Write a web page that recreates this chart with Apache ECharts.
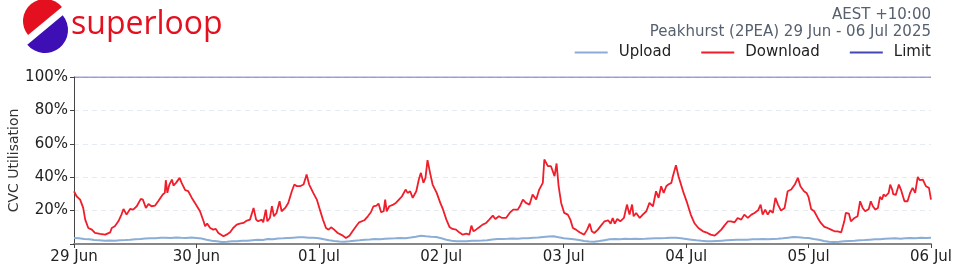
<!DOCTYPE html>
<html><head><meta charset="utf-8">
<script src="https://cdn.jsdelivr.net/npm/echarts@6/dist/echarts.min.js"></script>
<style>html,body{margin:0;padding:0;background:#fff}#c{width:960px;height:275px}</style>
</head><body><div id="c"></div>
<script>
const dayLabels = ['29 Jun','30 Jun','01 Jul','02 Jul','03 Jul','04 Jul','05 Jul','06 Jul'];
const yTicks = [0,20,40,60,80,100];
const limitValue = 100;
// download: [hour since 29 Jun 00:00, % utilisation]
const downloadPoints = [
[0,31.6],[0.5,28.6],[1.2,26.6],[1.8,21.6],[2.2,14.6],[2.8,9.6],[3.5,8.6],[4.1,6.6],[5.1,6.0],[6.1,5.6],[7.1,7.0],[7.4,9.6],[8.0,10.6],[8.7,13.6],[9.3,17.6],[9.7,21.0],[10.3,17.6],[11.0,21.0],[11.6,20.6],[12.3,22.6],[13.1,27.0],[13.5,26.6],[14.1,21.6],[14.6,24.0],[15.2,22.6],[15.9,23.0],[16.5,25.6],[17.4,29.6],[17.8,30.6],[18.0,38.2],[18.3,30.6],[18.7,35.6],[19.2,38.6],[19.5,35.0],[20.0,36.6],[20.7,39.6],[21.1,36.6],[21.8,32.2],[22.4,31.6],[23.1,27.6],[23.9,23.6],
[24.7,19.6],[25.4,13.6],[25.7,10.6],[26.1,12.2],[26.7,9.6],[27.3,8.6],[27.8,9.0],[28.3,6.6],[29.3,4.6],[29.9,5.6],[30.6,7.0],[31.2,9.6],[31.9,11.6],[32.5,12.2],[33.2,12.6],[33.9,14.0],[34.5,14.6],[35.2,21.6],[35.7,14.6],[36.1,13.6],[36.8,14.6],[37.1,13.0],[37.6,20.6],[37.9,13.6],[38.4,15.6],[38.8,22.6],[39.2,16.6],[39.7,18.6],[40.3,25.6],[40.7,19.6],[41.4,21.6],[42.0,24.6],[42.7,31.6],[43.2,35.6],[43.7,34.6],[44.3,34.6],[45.0,35.6],[45.6,41.6],[46.1,35.6],[46.9,30.6],[47.6,26.6],
[48.1,21.6],[48.8,14.6],[49.4,9.6],[49.9,8.6],[50.4,10.0],[51.0,8.6],[51.7,6.6],[52.7,5.0],[53.3,3.6],[54.0,5.0],[54.6,7.6],[55.3,10.6],[55.9,13.0],[56.9,14.2],[57.6,16.6],[58.2,19.0],[58.7,22.6],[59.3,23.0],[59.7,24.2],[60.2,19.0],[60.7,19.6],[61.0,26.6],[61.3,19.6],[61.8,22.6],[62.6,23.6],[63.1,24.6],[63.7,26.6],[64.3,28.6],[65.0,32.6],[65.4,30.6],[65.9,31.6],[66.4,27.6],[67.1,31.6],[67.6,38.6],[68.0,42.6],[68.5,36.6],[68.9,39.6],[69.3,50.2],[69.8,42.6],[70.3,35.6],[71.1,30.6],[71.8,24.6],
[72.3,21.0],[73.0,14.6],[73.6,10.2],[74.2,9.0],[74.9,8.6],[75.5,7.0],[76.2,5.6],[76.9,6.2],[77.5,5.6],[77.9,11.0],[78.3,7.6],[78.8,8.6],[79.5,10.2],[80.1,11.6],[80.8,12.6],[81.4,14.6],[82.1,17.0],[82.6,15.0],[83.3,16.6],[83.9,15.6],[84.7,15.6],[85.4,18.6],[86.1,20.6],[87.0,20.6],[87.4,22.6],[88.0,26.6],[88.6,24.6],[89.3,23.6],[89.9,29.6],[90.6,26.6],[91.2,32.6],[91.9,36.6],[92.2,50.6],[92.9,46.6],[93.5,46.6],[94.2,40.6],[94.6,48.2],[95.0,34.6],[95.5,24.6],
[96.1,18.6],[96.8,17.6],[97.3,14.6],[97.8,9.6],[98.4,8.6],[99.1,7.0],[100.0,5.6],[100.6,8.6],[101.1,12.2],[101.5,7.6],[102.0,6.6],[102.7,8.6],[103.3,11.0],[104.0,13.6],[104.7,14.2],[105.2,12.2],[105.6,15.6],[106.0,12.2],[106.5,15.0],[107.1,13.6],[107.8,15.6],[108.4,23.6],[108.9,17.6],[109.4,23.6],[109.7,16.6],[110.2,18.6],[110.9,15.6],[111.5,17.6],[112.2,19.6],[112.8,24.6],[113.5,22.6],[114.1,31.6],[114.6,27.6],[115.1,34.6],[115.6,30.6],[116.1,34.6],[116.5,35.6],[117.1,36.6],[117.4,40.6],[118.0,47.2],[118.5,40.6],[118.9,36.6],[119.5,30.6],
[120.2,24.6],[120.9,17.6],[121.6,12.6],[122.4,9.6],[123.3,7.6],[123.9,7.0],[124.8,5.6],[125.6,5.0],[126.2,6.6],[126.9,8.6],[127.5,11.0],[128.2,13.6],[128.8,13.6],[129.5,13.0],[130.1,15.6],[130.8,14.6],[131.4,17.6],[132.1,15.6],[132.8,17.6],[133.4,18.6],[134.1,20.2],[134.6,23.6],[135.0,17.6],[135.5,20.6],[136.0,17.6],[136.5,20.2],[137.0,18.6],[137.5,27.6],[138.0,23.6],[138.6,20.0],[139.3,21.6],[139.9,31.6],[140.6,32.6],[141.3,35.6],[141.9,39.6],[142.4,34.6],[143.1,31.6],[143.6,30.6],
[144.0,28.0],[144.5,21.0],[145.1,19.6],[145.8,15.6],[146.4,12.6],[147.1,10.2],[147.7,9.6],[148.4,8.6],[149.1,7.6],[149.7,7.6],[150.4,7.0],[150.7,7.0],[151.0,13.6],[151.3,18.6],[151.9,18.2],[152.3,13.6],[153.0,15.6],[153.6,16.6],[154.1,25.6],[154.6,21.6],[155.1,19.6],[155.8,21.0],[156.2,25.6],[156.6,22.6],[157.1,20.6],[157.6,21.6],[158.0,28.2],[158.4,26.6],[158.7,29.6],[159.1,28.6],[159.7,30.6],[160.0,35.6],[160.4,32.6],[160.6,29.8],[161.1,29.4],[161.7,35.6],[162.1,32.6],[162.8,25.6],[163.4,25.6],[163.9,30.6],[164.4,33.6],[164.9,30.6],[165.4,40.2],[165.8,38.2],[166.4,38.6],[167.0,34.6],[167.6,33.6],[168.0,26.6]
];
// upload: hourly % utilisation, starting 29 Jun 00:00
const uploadValues = [
3.6,3.4,3.0,2.8,2.4,2.2,2.0,2.1,1.9,2.3,2.4,2.6,2.9,3.0,3.3,3.5,3.4,3.7,3.8,3.6,3.9,3.7,3.6,3.9,
3.6,3.3,2.5,2.0,1.6,1.2,1.3,1.6,1.6,1.9,2.0,2.3,2.6,2.4,3.0,2.9,3.3,3.4,3.6,3.8,4.0,4.1,3.8,3.7,
3.5,2.8,2.2,1.8,1.5,1.4,1.6,2.0,2.2,2.5,2.7,3.0,2.9,3.1,3.3,3.4,3.6,3.5,3.9,4.4,5.0,4.6,4.3,4.2,
3.4,2.6,2.0,1.7,1.6,1.7,1.9,2.0,2.1,2.3,2.7,3.0,3.0,3.1,3.3,3.2,3.4,3.5,3.7,3.9,4.2,4.5,4.7,4.0,
3.4,3.2,2.8,2.4,1.8,1.5,1.4,1.8,2.3,2.8,3.0,2.9,3.1,3.0,3.2,3.0,3.1,3.3,3.4,3.5,3.6,3.8,3.7,3.4,
3.0,2.6,2.2,1.9,1.7,1.6,1.8,2.0,2.2,2.4,2.5,2.6,2.6,2.8,2.9,3.0,2.8,3.0,3.1,3.4,3.8,4.2,4.0,3.7,
3.6,3.0,2.6,1.8,1.4,1.2,1.3,1.6,1.8,2.0,2.3,2.4,2.6,2.8,2.9,3.1,3.3,3.4,3.2,3.5,3.6,3.4,3.7,3.6,
3.8
];

const chart = echarts.init(document.getElementById('c'), null, {renderer:'canvas'});
const FONT = 'DejaVu Sans';
const RED = '#e5101f', PURPLE = '#3d0fb5';
const option = {
  animation: false,
  backgroundColor: '#fff',
  grid: {left: 74, right: 29, top: 77, bottom: 31, containLabel: false, outerBoundsMode: 'none'},
  legend: {
    right: 24, top: 40, itemWidth: 33, itemHeight: 2, itemGap: 30, icon: 'rect',
    textStyle: {fontFamily: FONT, fontSize: 15, color: '#222', padding: [0,0,0,6]},
    data: ['Upload','Download','Limit']
  },
  graphic: [
    {type:'sector', shape:{cx:45, cy:21, r:22, r0:0, startAngle: Math.PI*0.78, endAngle: Math.PI*1.78}, style:{fill:RED}},
    {type:'sector', shape:{cx:45, cy:30, r:23, r0:0, startAngle: -Math.PI*0.22, endAngle: Math.PI*0.78}, style:{fill:PURPLE}},
    {type:'text', left: 71, top: 9, style:{text:'superloop', fontFamily:'Open Sans', fontSize:32, fontWeight:500, fill:RED}},
    {type:'text', right: 29, top: 8, style:{text:'AEST +10:00', fontFamily:FONT, fontSize:15, fill:'#56606f', align:'right'}},
    {type:'text', right: 29, top: 25, style:{text:'Peakhurst (2PEA) 29 Jun - 06 Jul 2025', fontFamily:FONT, fontSize:15, fill:'#56606f', align:'right'}}
  ],
  xAxis: {
    type: 'value', min: 0, max: 168, interval: 24,
    axisLine: {show: true, onZero: false, lineStyle: {color: '#888', width: 2}},
    axisTick: {show: true, length: 4, lineStyle: {color: '#444'}},
    axisLabel: {fontFamily: FONT, fontSize: 15, color: '#222', margin: 6,
      formatter: v => dayLabels[Math.round(v/24)] || ''},
    splitLine: {show: false}
  },
  yAxis: {
    type: 'value', min: yTicks[0], max: yTicks[yTicks.length-1], interval: 20,
    name: 'CVC Utilisation', nameLocation: 'middle', nameGap: 53, nameRotate: 90, nameMoveOverlap: false,
    nameTextStyle: {fontFamily: FONT, fontSize: 14, color: '#333'},
    axisLine: {show: true, lineStyle: {color: '#444', width: 1}},
    axisTick: {show: true, length: 4, lineStyle: {color: '#444'}},
    axisLabel: {fontFamily: FONT, fontSize: 15, color: '#222', margin: 6,
      formatter: v => v === 0 ? '' : v + '%'},
    splitLine: {show: true, lineStyle: {color: '#e6ebf2', type: [5,4], width: 1}}
  },
  series: [
    {name:'Upload', type:'line', showSymbol:false, symbol:'none', color:'#8aaed6',
      lineStyle:{width:2, color:'#8aaed6'}, data: uploadValues.map((v,i)=>[i,v]), z:2},
    {name:'Download', type:'line', showSymbol:false, symbol:'none', color:'#f01d2a',
      lineStyle:{width:1.8, color:'#f01d2a'}, data: downloadPoints, z:3},
    {name:'Limit', type:'line', showSymbol:false, symbol:'none', color:'#4646b4',
      lineStyle:{width:1, color:'#4646b4'}, data: [[0,limitValue],[168,limitValue]], z:4}
  ]
};
chart.setOption(option);
</script></body></html>
